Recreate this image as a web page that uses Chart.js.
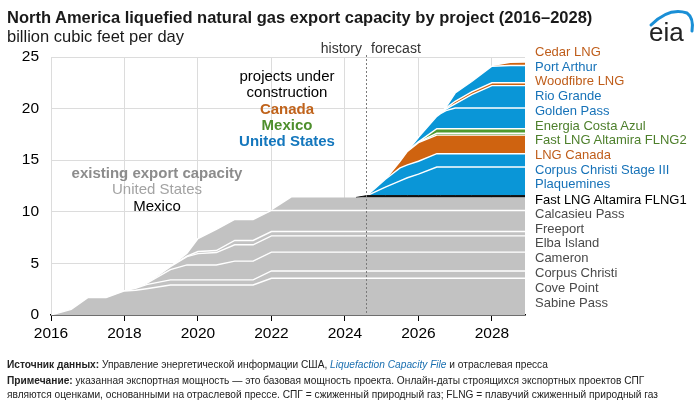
<!DOCTYPE html>
<html><head><meta charset="utf-8">
<script src="https://cdn.jsdelivr.net/npm/chart.js@4.4.1/dist/chart.umd.min.js"></script>
<style>
html,body{margin:0;padding:0;background:#fff;}
#wrap{position:relative;width:700px;height:400px;overflow:hidden;font-family:'Liberation Sans',Arial,sans-serif;}
canvas{position:absolute;left:0;top:0;}
.t{position:absolute;white-space:nowrap;line-height:1;}
.c{transform:translate(-50%,-50%);}
.l{transform:translateY(-50%);}
.r{transform:translate(-100%,-50%);}
.lab{position:absolute;left:535px;white-space:nowrap;font-size:13px;line-height:1;transform:translateY(-50%);}
.note{position:absolute;left:7px;font-size:10.6px;white-space:nowrap;color:#222;line-height:1;transform-origin:0 50%;transform:translateY(-50%) scaleX(0.96);}
</style></head>
<body><div id="wrap">
<canvas id="c" width="700" height="400"></canvas>
<div class="t l" style="left:7px;top:17px;font-size:16.5px;font-weight:bold;color:#1a1a1a">North America liquefied natural gas export capacity by project (2016–2028)</div>
<div class="t l" style="left:7px;top:36px;font-size:16.5px;color:#1a1a1a">billion cubic feet per day</div>
<svg style="position:absolute;left:0;top:0" width="700" height="60"><path d="M651 25 Q669 7 687 13 Q694 18 692 31" fill="none" stroke="#1a8fd6" stroke-width="3" stroke-linecap="round"/></svg>
<div class="t l" style="left:649px;top:32px;font-size:26px;color:#222">eia</div>
<div class="t r" style="left:362px;top:48px;font-size:14px;color:#333">history</div>
<div class="t l" style="left:371px;top:48px;font-size:14px;color:#333">forecast</div>
<div class="t c" style="left:287px;top:75px;font-size:15px;color:#000">projects under</div>
<div class="t c" style="left:287px;top:91px;font-size:15px;color:#000">construction</div>
<div class="t c" style="left:287px;top:108px;font-size:15px;font-weight:bold;color:#c0631b">Canada</div>
<div class="t c" style="left:287px;top:124px;font-size:15px;font-weight:bold;color:#4e8f2d">Mexico</div>
<div class="t c" style="left:287px;top:140px;font-size:15px;font-weight:bold;color:#1477bd">United States</div>
<div class="t c" style="left:157px;top:172px;font-size:15px;font-weight:bold;color:#8c8c8c">existing export capacity</div>
<div class="t c" style="left:157px;top:188px;font-size:15px;color:#a3a3a3">United States</div>
<div class="t c" style="left:157px;top:205px;font-size:15px;color:#000">Mexico</div>
<div id="labels"></div>
<div class="note" style="top:364px"><b>Источник данных:</b> Управление энергетической информации США, <i style="color:#1a6fb0">Liquefaction Capacity File</i> и отраслевая пресса</div>
<div class="note" style="top:379.5px"><b>Примечание:</b> указанная экспортная мощность — это базовая мощность проекта. Онлайн-даты строящихся экспортных проектов СПГ</div>
<div class="note" style="top:393.5px">являются оценками, основанными на отраслевой прессе. СПГ = сжиженный природный газ; FLNG = плавучий сжиженный природный газ</div>
</div>
<script>
// time points (decimal years)
const years = [2016, 2016.55, 2017, 2017.5, 2018, 2018.3, 2018.6, 2019.25, 2019.7, 2020, 2020.5, 2021, 2021.5, 2022, 2022.55, 2024.3, 2024.6, 2025.1, 2025.5, 2025.7, 2026, 2026.5, 2026.6, 2026.75, 2027, 2027.45, 2028, 2028.5, 2028.9];
// existing capacity (billion cubic feet per day)
const sabinePass    = [0,0.55,1.68,1.68,2.33,2.40,2.55,2.91,2.91,2.91,2.91,2.91,2.91,3.56,3.56,3.56,3.56,3.56,3.56,3.56,3.56,3.56,3.56,3.56,3.56,3.56,3.56,3.56,3.56];
const covePoint     = [0,0,0,0,0.03,0.19,0.40,0.49,0.49,0.49,0.49,0.49,0.49,0.71,0.71,0.71,0.71,0.71,0.71,0.71,0.71,0.71,0.71,0.71,0.71,0.71,0.71,0.71,0.71];
const corpusChristi = [0,0,0,0,0,0,0.12,1.00,1.45,1.45,1.45,1.82,1.82,1.82,1.82,1.82,1.82,1.82,1.82,1.82,1.82,1.82,1.82,1.82,1.82,1.82,1.82,1.82,1.82];
const cameron       = [0,0,0,0,0,0,0,0.29,0.80,1.10,1.20,1.58,1.58,1.58,1.58,1.58,1.58,1.58,1.58,1.58,1.58,1.58,1.58,1.58,1.58,1.58,1.58,1.58,1.58];
const elbaIsland    = [0,0,0,0,0,0,0,0,0.05,0.20,0.20,0.42,0.42,0.42,0.42,0.42,0.42,0.42,0.42,0.42,0.42,0.42,0.42,0.42,0.42,0.42,0.42,0.42,0.42];
const freeport      = [0,0,0,0,0,0,0,0,0.29,1.25,2.04,2.04,2.04,2.04,2.04,2.04,2.04,2.04,2.04,2.04,2.04,2.04,2.04,2.04,2.04,2.04,2.04,2.04,2.04];
const calcasieuPass = [0,0,0,0,0,0,0,0,0,0,0,0,0,0,1.26,1.26,1.26,1.26,1.26,1.26,1.26,1.26,1.26,1.26,1.26,1.26,1.26,1.26,1.26];
const altamiraFlng1 = [0,0,0,0,0,0,0,0,0,0,0,0,0,0,0,0,0.18,0.18,0.18,0.18,0.18,0.18,0.18,0.18,0.18,0.18,0.18,0.18,0.18];
// projects under construction
const plaquemines   = [0,0,0,0,0,0,0,0,0,0,0,0,0,0,0,0,0,0.83,1.43,1.73,2.08,2.77,2.77,2.77,2.77,2.77,2.77,2.77,2.77];
const ccStage3      = [0,0,0,0,0,0,0,0,0,0,0,0,0,0,0,0,0,0.75,1.25,1.25,1.25,1.29,1.29,1.29,1.29,1.29,1.29,1.29,1.29];
const lngCanada     = [0,0,0,0,0,0,0,0,0,0,0,0,0,0,0,0,0,0,0.65,1.30,1.80,1.80,1.80,1.80,1.80,1.80,1.80,1.80,1.80];
const altamiraFlng2 = [0,0,0,0,0,0,0,0,0,0,0,0,0,0,0,0,0,0,0,0,0.05,0.18,0.18,0.18,0.18,0.18,0.18,0.18,0.18];
const costaAzul     = [0,0,0,0,0,0,0,0,0,0,0,0,0,0,0,0,0,0,0,0,0.03,0.44,0.44,0.44,0.44,0.44,0.44,0.44,0.44];
const goldenPass    = [0,0,0,0,0,0,0,0,0,0,0,0,0,0,0,0,0,0,0,0,0.44,1.20,1.45,1.75,2.01,2.01,2.01,2.01,2.01];
const rioGrande     = [0,0,0,0,0,0,0,0,0,0,0,0,0,0,0,0,0,0,0,0,0,0,0,0.15,0.40,1.30,2.17,2.17,2.17];
const woodfibre     = [0,0,0,0,0,0,0,0,0,0,0,0,0,0,0,0,0,0,0,0,0,0,0,0.10,0.25,0.27,0.27,0.27,0.27];
const portArthur    = [0,0,0,0,0,0,0,0,0,0,0,0,0,0,0,0,0,0,0,0,0,0,0,0.10,0.80,1.00,1.60,1.67,1.67];
const cedarLng      = [0,0,0,0,0,0,0,0,0,0,0,0,0,0,0,0,0,0,0,0,0,0,0,0,0,0,0,0.25,0.27];
const yTicks = [0, 5, 10, 15, 20, 25];
const xTicks = [2016, 2018, 2020, 2022, 2024, 2026, 2028];
const dividerYear = 2024.58;

const GRAY = '#c2c2c2', BLUE = '#0a96d7', ORANGE = '#cf6310', GREEN = '#4f9a2f', BLACK = '#111';
const series = [
  ['Sabine Pass', sabinePass, GRAY, '#fff', '#4a4a4a'],
  ['Cove Point', covePoint, GRAY, '#fff', '#4a4a4a'],
  ['Corpus Christi', corpusChristi, GRAY, '#fff', '#4a4a4a'],
  ['Cameron', cameron, GRAY, '#fff', '#4a4a4a'],
  ['Elba Island', elbaIsland, GRAY, '#fff', '#4a4a4a'],
  ['Freeport', freeport, GRAY, '#fff', '#4a4a4a'],
  ['Calcasieu Pass', calcasieuPass, GRAY, null, '#4a4a4a'],
  ['Fast LNG Altamira FLNG1', altamiraFlng1, BLACK, BLACK, '#000'],
  ['Plaquemines', plaquemines, BLUE, '#fff', '#1672b8'],
  ['Corpus Christi Stage III', ccStage3, BLUE, '#fff', '#1672b8'],
  ['LNG Canada', lngCanada, ORANGE, '#fff', '#bf5d1a'],
  ['Fast LNG Altamira FLNG2', altamiraFlng2, GREEN, '#fff', '#4d7f2b'],
  ['Energia Costa Azul', costaAzul, GREEN, '#fff', '#4d7f2b'],
  ['Golden Pass', goldenPass, BLUE, '#fff', '#1672b8'],
  ['Rio Grande', rioGrande, BLUE, '#fff', '#1672b8'],
  ['Woodfibre LNG', woodfibre, ORANGE, '#fff', '#bf5d1a'],
  ['Port Arthur', portArthur, BLUE, '#fff', '#1672b8'],
  ['Cedar LNG', cedarLng, ORANGE, null, '#bf5d1a']
];

const datasets = series.map(([name, arr, fillC, lineC], i) => ({
  label: name,
  data: years.map((t, k) => ({x: t, y: arr[k]})),
  backgroundColor: fillC,
  borderColor: lineC || 'rgba(0,0,0,0)',
  borderWidth: lineC ? (lineC === BLACK ? 1 : 1.4) : 0,
  fill: i === 0 ? 'origin' : '-1',
  pointRadius: 0,
  tension: 0,
  segment: {
    borderColor: ctx => (arr[ctx.p0DataIndex] === 0 && arr[ctx.p1DataIndex] === 0) ? 'rgba(0,0,0,0)' : (lineC || 'rgba(0,0,0,0)')
  }
}));

// right-hand labels
const labelY = [301.7,286.7,271.7,257.3,242.3,228.3,213.3,199,183.3,169.3,154,139.3,124.5,110,95,80,65.7,50.7];
const labDiv = document.getElementById('labels');
series.forEach(([name,,,,tc], i) => {
  const d = document.createElement('div');
  d.className = 'lab';
  d.style.top = labelY[i] + 'px';
  d.style.color = tc;
  d.textContent = name;
  labDiv.appendChild(d);
});

const divider = {
  id: 'divider',
  afterDatasetsDraw(chart) {
    const {ctx, chartArea, scales} = chart;
    const x = Math.round(scales.x.getPixelForValue(dividerYear)) + 0.5;
    ctx.save();
    ctx.strokeStyle = '#7a7a7a';
    ctx.lineWidth = 1;
    ctx.setLineDash([2, 2]);
    ctx.beginPath();
    ctx.moveTo(x, chartArea.top - 2);
    ctx.lineTo(x, chartArea.bottom);
    ctx.stroke();
    ctx.restore();
  }
};

Chart.defaults.font.family = "'Liberation Sans', Arial, sans-serif";
new Chart(document.getElementById('c'), {
  type: 'line',
  data: {datasets},
  plugins: [divider],
  options: {
    responsive: false,
    animation: false,
    layout: {padding: {left: 0, right: 175, top: 57, bottom: 55}},
    plugins: {legend: {display: false}, tooltip: {enabled: false}},
    scales: {
      x: {
        type: 'linear', min: 2016, max: 2028.9,
        afterBuildTicks: ax => { ax.ticks = xTicks.map(v => ({value: v})); },
        afterFit: s => { s.height = 30; },
        ticks: {callback: v => String(v), color: '#000', font: {size: 15.5}, padding: 3, maxRotation: 0, autoSkip: false},
        grid: {color: '#dcdcdc', lineWidth: 1, tickColor: '#000', tickLength: 6, drawOnChartArea: true},
        border: {color: '#000', width: 1.5}
      },
      y: {
        stacked: true, min: 0, max: 25,
        afterBuildTicks: ax => { ax.ticks = yTicks.map(v => ({value: v})); },
        afterFit: s => { s.width = 51; },
        ticks: {color: '#000', font: {size: 15.5}, padding: 12},
        grid: {color: '#dcdcdc', lineWidth: 1, drawTicks: false},
        border: {display: false}
      }
    }
  }
});
</script>
</body></html>
